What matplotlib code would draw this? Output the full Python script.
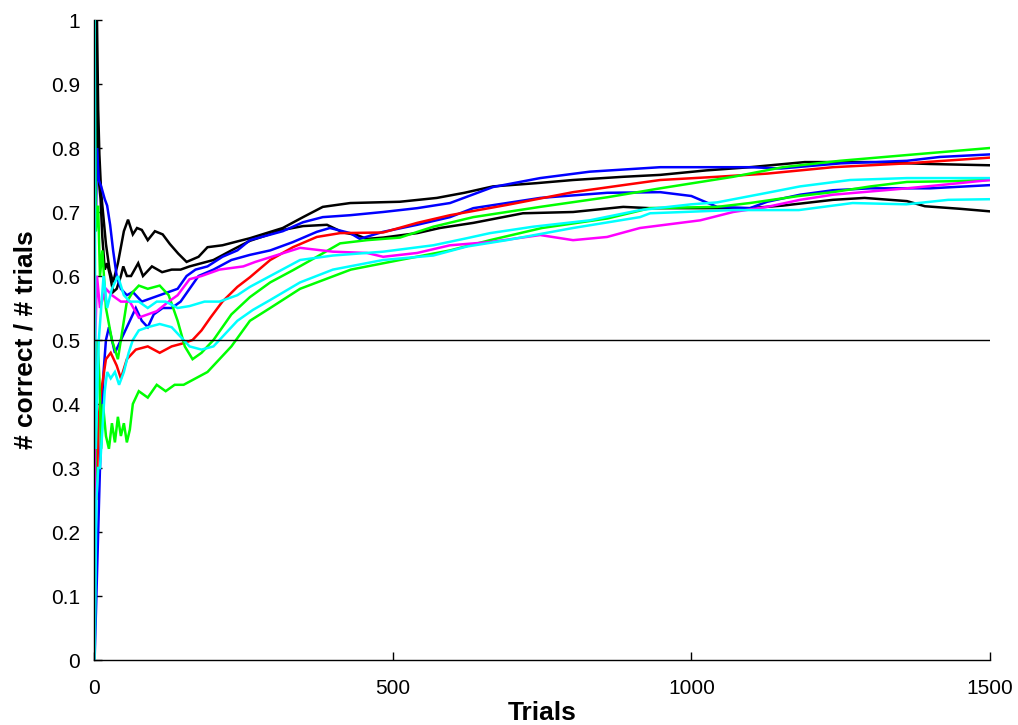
import matplotlib
matplotlib.use("Agg")
import matplotlib.pyplot as plt

plt.rcParams['font.family'] = ['Liberation Sans', 'DejaVu Sans']

# ---- data (trial, fraction correct) ----
black1_t = [1, 5, 7, 9, 12, 16, 20, 26, 32, 40, 50, 57, 65, 72, 80, 90, 102, 115, 127, 141, 155, 175, 190, 215, 244, 261, 316, 350, 383, 429, 512, 574, 620, 668, 740, 802, 886, 948, 1025, 1098, 1190, 1300, 1400, 1500]
black1_v = [1.0, 1.0, 0.86, 0.79, 0.73, 0.69, 0.65, 0.61, 0.59, 0.62, 0.67, 0.688, 0.665, 0.675, 0.672, 0.656, 0.67, 0.665, 0.65, 0.635, 0.622, 0.63, 0.645, 0.648, 0.655, 0.659, 0.675, 0.692, 0.708, 0.714, 0.716, 0.722, 0.73, 0.74, 0.745, 0.75, 0.755, 0.758, 0.765, 0.77, 0.778, 0.778, 0.775, 0.773]

black2_t = [1, 3, 5, 8, 11, 14, 18, 22, 27, 32, 38, 45, 49, 55, 62, 74, 82, 97, 114, 130, 145, 160, 180, 200, 230, 261, 316, 350, 390, 417, 440, 457, 484, 541, 579, 635, 718, 802, 886, 931, 1098, 1153, 1237, 1290, 1361, 1391, 1450, 1500]
black2_v = [1.0, 1.0, 0.8, 0.75, 0.72, 0.66, 0.61, 0.62, 0.6, 0.575, 0.58, 0.6, 0.615, 0.6, 0.6, 0.62, 0.6, 0.615, 0.606, 0.61, 0.61, 0.615, 0.62, 0.625, 0.64, 0.655, 0.672, 0.678, 0.68, 0.668, 0.664, 0.658, 0.66, 0.667, 0.675, 0.683, 0.698, 0.70, 0.708, 0.706, 0.706, 0.71, 0.719, 0.722, 0.717, 0.709, 0.705, 0.701]

blue1_t = [1, 3, 5, 8, 12, 18, 22, 27, 32, 38, 45, 55, 65, 80, 95, 110, 125, 140, 155, 170, 190, 215, 240, 261, 316, 350, 383, 429, 484, 541, 596, 668, 747, 830, 948, 1043, 1098, 1150, 1250, 1361, 1416, 1500]
blue1_v = [1.0, 0.67, 0.8, 0.75, 0.74, 0.72, 0.71, 0.68, 0.64, 0.6, 0.58, 0.57, 0.575, 0.56, 0.565, 0.57, 0.575, 0.58, 0.6, 0.61, 0.615, 0.63, 0.64, 0.656, 0.67, 0.684, 0.692, 0.695, 0.70, 0.706, 0.714, 0.739, 0.753, 0.763, 0.77, 0.77, 0.77, 0.768, 0.776, 0.78, 0.786, 0.79]

blue2_t = [1, 4, 7, 10, 13, 16, 20, 25, 30, 35, 45, 55, 70, 80, 90, 100, 115, 130, 145, 160, 175, 200, 230, 261, 295, 333, 373, 395, 429, 445, 484, 541, 596, 635, 747, 859, 948, 1000, 1043, 1098, 1127, 1182, 1237, 1300, 1400, 1500]
blue2_v = [0.0, 0.1, 0.2, 0.3, 0.38, 0.45, 0.5, 0.52, 0.5, 0.48, 0.5, 0.52, 0.55, 0.53, 0.52, 0.54, 0.55, 0.55, 0.56, 0.58, 0.6, 0.61, 0.625, 0.633, 0.64, 0.653, 0.669, 0.675, 0.667, 0.658, 0.669, 0.68, 0.692, 0.706, 0.722, 0.73, 0.731, 0.725, 0.708, 0.706, 0.716, 0.727, 0.734, 0.737, 0.737, 0.742]

red_t = [1, 2, 4, 8, 12, 20, 28, 38, 45, 55, 70, 90, 110, 130, 150, 165, 180, 195, 215, 240, 261, 295, 333, 373, 412, 484, 541, 596, 691, 802, 886, 948, 1043, 1127, 1237, 1361, 1500]
red_v = [0.0, 0.5, 0.25, 0.38, 0.42, 0.47, 0.48, 0.46, 0.44, 0.47, 0.485, 0.49, 0.48, 0.49, 0.495, 0.5, 0.515, 0.535, 0.56, 0.583, 0.598, 0.625, 0.645, 0.661, 0.667, 0.668, 0.683, 0.695, 0.711, 0.731, 0.742, 0.75, 0.755, 0.76, 0.77, 0.776, 0.785]

green1_t = [1, 3, 7, 10, 14, 20, 30, 40, 45, 55, 65, 75, 90, 110, 125, 140, 152, 165, 180, 200, 230, 261, 295, 333, 373, 412, 457, 512, 568, 635, 747, 859, 948, 1070, 1153, 1249, 1361, 1500]
green1_v = [1.0, 0.67, 0.71, 0.6, 0.64, 0.55, 0.5, 0.47, 0.5, 0.56, 0.575, 0.585, 0.58, 0.585, 0.57, 0.53, 0.49, 0.47, 0.48, 0.5, 0.54, 0.567, 0.59, 0.609, 0.63, 0.651, 0.656, 0.66, 0.677, 0.692, 0.708, 0.723, 0.737, 0.755, 0.77, 0.78, 0.789, 0.80]

green2_t = [1, 3, 6, 9, 12, 15, 20, 25, 30, 35, 40, 45, 50, 55, 60, 65, 75, 90, 105, 120, 135, 150, 170, 190, 210, 230, 261, 295, 345, 430, 512, 596, 663, 750, 860, 931, 1043, 1098, 1180, 1237, 1300, 1361, 1430, 1500]
green2_v = [0.0, 0.33, 0.5, 0.44, 0.33, 0.4, 0.35, 0.33, 0.37, 0.34, 0.38, 0.35, 0.37, 0.34, 0.36, 0.4, 0.42, 0.41, 0.43, 0.42, 0.43, 0.43, 0.44, 0.45, 0.47, 0.49, 0.53, 0.55, 0.58, 0.61, 0.625, 0.64, 0.656, 0.675, 0.69, 0.706, 0.708, 0.714, 0.725, 0.731, 0.74, 0.747, 0.748, 0.75]

magenta_t = [1, 2, 5, 10, 20, 30, 45, 60, 75, 90, 105, 125, 140, 160, 180, 210, 250, 270, 345, 400, 457, 484, 541, 596, 663, 747, 802, 859, 914, 1015, 1070, 1127, 1182, 1237, 1361, 1416, 1500]
magenta_v = [0.0, 0.5, 0.6, 0.55, 0.58, 0.57, 0.56, 0.56, 0.535, 0.54, 0.545, 0.56, 0.57, 0.595, 0.60, 0.61, 0.615, 0.622, 0.644, 0.638, 0.636, 0.63, 0.636, 0.648, 0.653, 0.664, 0.656, 0.661, 0.675, 0.687, 0.70, 0.708, 0.719, 0.727, 0.737, 0.742, 0.75]

cyan1_t = [1, 2, 3, 5, 8, 12, 16, 22, 30, 40, 50, 60, 75, 90, 105, 120, 140, 160, 185, 210, 240, 261, 295, 345, 400, 484, 568, 624, 663, 735, 830, 914, 1000, 1043, 1127, 1182, 1266, 1361, 1500]
cyan1_v = [1.0, 0.5, 0.33, 0.4, 0.5, 0.55, 0.6, 0.55, 0.58, 0.6, 0.57, 0.56, 0.56, 0.55, 0.56, 0.56, 0.55, 0.553, 0.56, 0.56, 0.57, 0.583, 0.60, 0.625, 0.632, 0.638, 0.648, 0.659, 0.667, 0.677, 0.687, 0.703, 0.712, 0.715, 0.73, 0.74, 0.75, 0.753, 0.753]

cyan2_t = [1, 4, 7, 10, 14, 18, 22, 28, 35, 42, 50, 58, 65, 75, 90, 110, 130, 145, 160, 180, 200, 220, 240, 266, 295, 345, 400, 484, 568, 624, 691, 802, 914, 931, 1070, 1180, 1270, 1360, 1430, 1500]
cyan2_v = [0.0, 0.25, 0.3, 0.3, 0.36, 0.42, 0.45, 0.44, 0.45, 0.43, 0.45, 0.48, 0.5, 0.515, 0.52, 0.525, 0.52, 0.505, 0.49, 0.485, 0.49, 0.51, 0.53, 0.547, 0.5625, 0.59, 0.61, 0.625, 0.632, 0.646, 0.656, 0.675, 0.692, 0.698, 0.703, 0.703, 0.714, 0.712, 0.719, 0.72]

x_ticks = [0, 500, 1000, 1500]
y_ticks = [0, 0.1, 0.2, 0.3, 0.4, 0.5, 0.6, 0.7, 0.8, 0.9, 1]
y_ticklabels = ['0', '0.1', '0.2', '0.3', '0.4', '0.5', '0.6', '0.7', '0.8', '0.9', '1']
chance_level = 0.5

series = [
    (black1_t, black1_v, '#000000'),
    (black2_t, black2_v, '#000000'),
    (blue1_t, blue1_v, '#0000ff'),
    (blue2_t, blue2_v, '#0000ff'),
    (red_t, red_v, '#ff0000'),
    (green1_t, green1_v, '#00ff00'),
    (green2_t, green2_v, '#00ff00'),
    (magenta_t, magenta_v, '#ff00ff'),
    (cyan1_t, cyan1_v, '#00ffff'),
    (cyan2_t, cyan2_v, '#00ffff'),
]

fig = plt.figure(figsize=(10.18, 7.25), dpi=100)
ax = fig.add_axes([94 / 1018, 1 - 660 / 725, (990 - 94) / 1018, (660 - 20) / 725])

for t, v, c in series:
    ax.plot(t, v, color=c, lw=1.8, solid_joinstyle='miter')

ax.axhline(chance_level, color='black', lw=1.0)

ax.set_xlim(0, 1500)
ax.set_ylim(0, 1)
ax.set_xticks(x_ticks)
ax.set_xticklabels([str(x) for x in x_ticks])
ax.set_yticks(y_ticks)
ax.set_yticklabels(y_ticklabels)

for side in ['top', 'right']:
    ax.spines[side].set_visible(False)
for side in ['left', 'bottom']:
    ax.spines[side].set_linewidth(1.0)

ax.tick_params(direction='in', length=6, width=1, labelsize=15)
ax.tick_params(axis='x', pad=14)
ax.tick_params(axis='y', pad=10)

ax.set_xlabel('Trials', fontsize=19, fontweight='bold', labelpad=2)
ax.set_ylabel('# correct / # trials', fontsize=19, fontweight='bold', labelpad=10)

fig.savefig('out.png', dpi=100)
